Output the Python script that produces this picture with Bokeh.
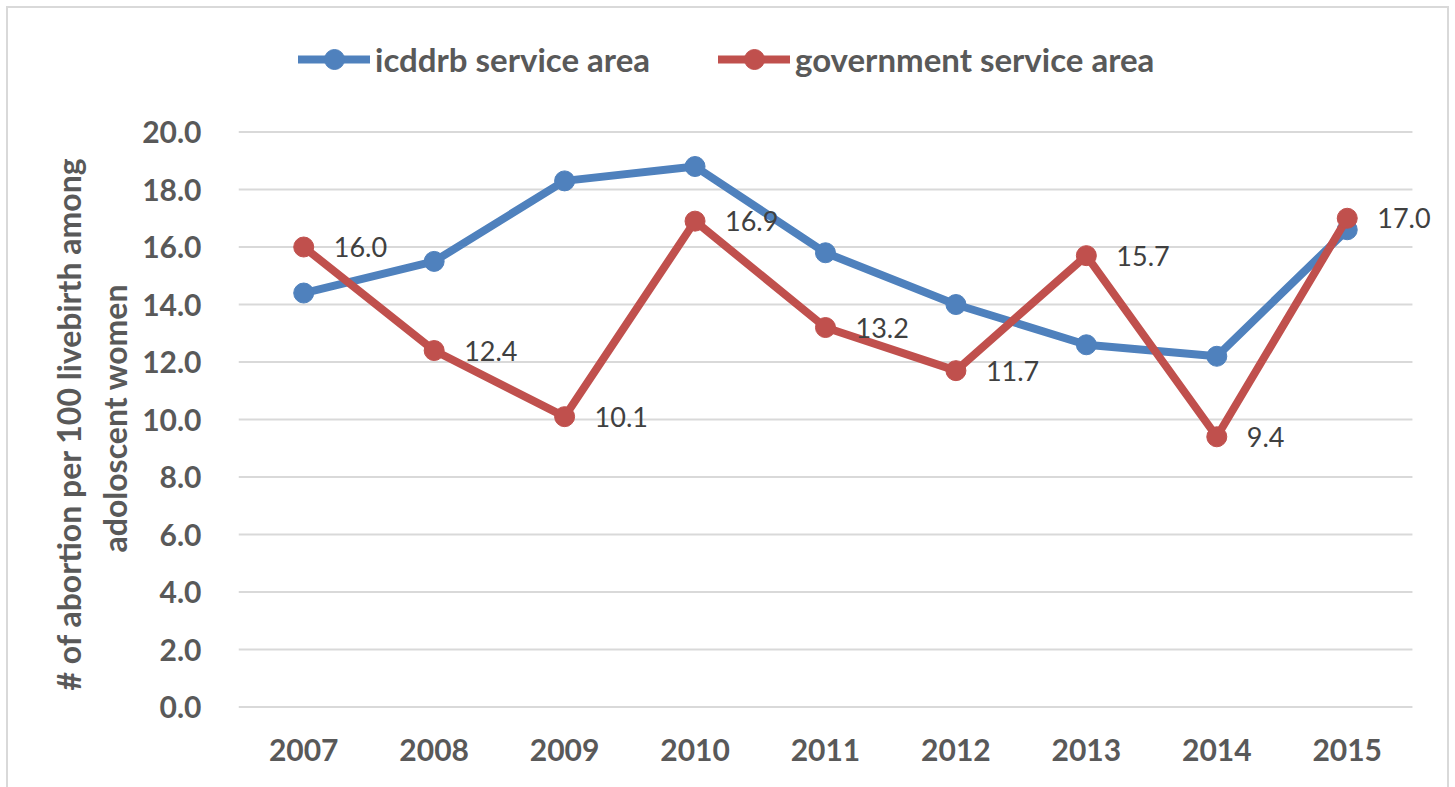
from bokeh.plotting import figure
from bokeh.models import (ColumnDataSource, Legend, LegendItem, FixedTicker, Title,
                          LabelSet, Range1d, PrintfTickFormatter)
from bokeh.core.properties import value
from bokeh.embed import file_html
from bokeh.resources import INLINE

years = ["2007", "2008", "2009", "2010", "2011", "2012", "2013", "2014", "2015"]
icddrb = [14.4, 15.5, 18.3, 18.8, 15.8, 14.0, 12.6, 12.2, 16.6]
government = [16.0, 12.4, 10.1, 16.9, 13.2, 11.7, 15.7, 9.4, 17.0]
y_ticks = [0, 2, 4, 6, 8, 10, 12, 14, 16, 18, 20]
series_names = ["icddrb service area", "government service area"]
y_label_lines = ["# of abortion per 100 livebirth among", "adoloscent women"]

BLUE = "#4F81BD"
RED = "#C0504D"
TXT = "#595959"
GRID = "#D9D9D9"
FONT = "Lato"

xpos = list(range(len(years)))
source = ColumnDataSource(dict(
    x=xpos,
    icddrb=icddrb,
    gov=government,
    gov_label=["{:.1f}".format(v) for v in government],
))

p = figure(width=1455, height=787, output_backend="svg", toolbar_location=None,
           x_range=Range1d(-0.5, len(years) - 0.5 + 0.215), y_range=Range1d(-0.05, 23.53),
           min_border_left=238, min_border_right=15, min_border_top=30, min_border_bottom=79)
p.outline_line_color = None
p.background_fill_color = None
p.border_fill_color = None
p.styles = {
    "background": (
        f"linear-gradient({GRID},{GRID}) 6px 6px / 2px 100% no-repeat, "
        f"linear-gradient({GRID},{GRID}) 1447px 6px / 2px 100% no-repeat, "
        f"linear-gradient({GRID},{GRID}) 6px 6px / 1443px 2px no-repeat, white"
    )
}

# grid (drawn as segments so they stop at the last category band)
p.xgrid.visible = False
p.ygrid.visible = False
p.segment(x0=[-0.5] * len(y_ticks), x1=[len(years) - 0.5] * len(y_ticks),
          y0=y_ticks, y1=y_ticks, line_color=GRID, line_width=2)

# axes
p.xaxis.ticker = FixedTicker(ticks=xpos)
p.xaxis.major_label_overrides = {i: y for i, y in zip(xpos, years)}
p.yaxis.ticker = FixedTicker(ticks=y_ticks)
p.yaxis.formatter = PrintfTickFormatter(format="%.1f")
for ax in (p.xaxis[0], p.yaxis[0]):
    ax.axis_line_color = None
    ax.major_tick_line_color = None
    ax.minor_tick_line_color = None
    ax.major_label_text_font = FONT
    ax.major_label_text_font_style = "bold"
    ax.major_label_text_font_size = "30px"
    ax.major_label_text_color = TXT
p.xaxis.major_label_standoff = 24
p.yaxis.major_label_standoff = 31

# two-line y-axis title (anchored at its lower end)
for text, standoff, offset in ((y_label_lines[1], 11, 156), (y_label_lines[0], 0, 18)):
    t = Title(text=text, align="left", offset=offset, standoff=standoff,
              text_font=FONT, text_font_style="bold", text_font_size="32px",
              text_color=TXT)
    p.add_layout(t, "left")

# series
l1 = p.line("x", "icddrb", source=source, line_color=BLUE, line_width=8,
            line_cap="round", line_join="round")
s1 = p.scatter("x", "icddrb", source=source, size=20, fill_color=BLUE, line_color=BLUE)
l2 = p.line("x", "gov", source=source, line_color=RED, line_width=8,
            line_cap="round", line_join="round")
s2 = p.scatter("x", "gov", source=source, size=20, fill_color=RED, line_color=RED)

labels = LabelSet(x="x", y="gov", text="gov_label", source=source, x_offset=30,
                  text_baseline="middle", text_align="left",
                  text_font=value(FONT), text_font_size="27px", text_color="#404040")
p.add_layout(labels)

legend = Legend(items=[LegendItem(label=series_names[0], renderers=[l1, s1]),
                       LegendItem(label=series_names[1], renderers=[l2, s2])],
                location=(60, 624), orientation="horizontal",
                glyph_width=72, glyph_height=50, label_height=50, label_width=343,
                label_standoff=5, spacing=0, padding=0, margin=0,
                border_line_color=None, background_fill_alpha=0,
                label_text_font=FONT, label_text_font_style="bold",
                label_text_font_size="33px", label_text_color=TXT)
p.add_layout(legend, "center")

open("out.html", "w").write(file_html(p, INLINE))
